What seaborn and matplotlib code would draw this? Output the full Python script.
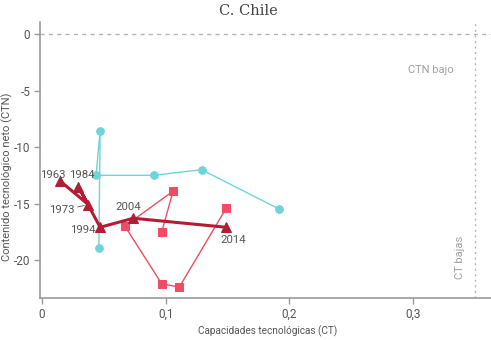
import numpy as np
import pandas as pd
import matplotlib
matplotlib.use("Agg")
import matplotlib.pyplot as plt
import matplotlib.ticker as mticker
import seaborn as sns

# capacidades tecnologicas (CT) y contenido tecnologico neto (CTN)
cian_ct = [0.046, 0.047, 0.0437, 0.0905, 0.129, 0.192]
cian_ctn = [-18.9, -8.6, -12.5, -12.5, -12.0, -15.5]

rosa_ct = [0.0968, 0.106, 0.067, 0.0968, 0.111, 0.149]
rosa_ctn = [-17.5, -13.9, -17.0, -22.1, -22.4, -15.4]

chile_years = ["1963", "1973", "1984", "1994", "2004", "2014"]
chile_ct = [0.0146, 0.0375, 0.0294, 0.047, 0.0738, 0.149]
chile_ctn = [-13.0, -15.1, -13.5, -17.1, -16.3, -17.1]

x_ticks = [0, 0.1, 0.2, 0.3]
y_ticks = [0, -5, -10, -15, -20]

c_cian = "#6fd4d9"
c_rosa = "#ee4d64"
c_chile = "#b41c35"
grey = "#9a9a9a"
txt = "#555555"

sns.set_style("white")
plt.rcParams["font.family"] = ["Roboto", "DejaVu Sans"]
plt.rcParams["axes.unicode_minus"] = False

fig = plt.figure(figsize=(4.91, 3.40), dpi=100)
ax = fig.add_axes([0.0815, 0.1235, 0.9185, 0.8115])

cian = pd.DataFrame(dict(ct=cian_ct, ctn=cian_ctn))
rosa = pd.DataFrame(dict(ct=rosa_ct, ctn=rosa_ctn))
chile = pd.DataFrame(dict(ct=chile_ct, ctn=chile_ctn, year=chile_years))

sns.lineplot(data=cian, x="ct", y="ctn", sort=False, estimator=None, color=c_cian,
             lw=1.0, marker="o", ms=5.5, mec=c_cian, ax=ax)
sns.lineplot(data=rosa, x="ct", y="ctn", sort=False, estimator=None, color=c_rosa,
             lw=1.0, marker="s", ms=5.5, mec=c_rosa, ax=ax)
sns.lineplot(data=chile, x="ct", y="ctn", sort=False, estimator=None, color=c_chile,
             lw=2.2, marker="^", ms=7, mec=c_chile, ax=ax)

# reference lines
ax.axhline(0, color="#b5b5b5", lw=1, ls=(0, (3, 3)), zorder=0)
ax.axvline(0.35, color="#b5b5b5", lw=1, ls=(0, (1.5, 2.5)), zorder=0)

# year labels
lab = dict(fontsize=8.2, color=txt)
leader = dict(arrowstyle="-", color=txt, lw=0.6, shrinkA=0, shrinkB=3)
ax.text(0.0090, -12.75, "1963", ha="center", va="baseline", **lab)
ax.annotate("1984", xy=(chile_ct[2], chile_ctn[2]), xytext=(0.0318, -12.75),
            ha="center", va="baseline", arrowprops=leader, **lab)
ax.annotate("1973", xy=(chile_ct[1], chile_ctn[1]), xytext=(0.0262, -15.6),
            ha="right", va="center", arrowprops=leader, **lab)
ax.text(0.0430, -17.3, "1994", ha="right", va="center", **lab)
ax.text(0.0700, -15.3, "2004", ha="center", va="center", **lab)
ax.text(0.1550, -18.25, "2014", ha="center", va="center", **lab)

ax.text(0.314, -3.2, "CTN bajo", ha="center", va="center", fontsize=8, color="#a0a0a0")
ax.text(0.338, -19.8, "CT bajas", ha="center", va="center", rotation=90, fontsize=8,
        color="#a0a0a0")

ax.set_xlim(-0.0016, 0.363)
ax.set_ylim(-23.36, 1.06)
ax.set_xticks(x_ticks)
ax.set_yticks(y_ticks)
ax.xaxis.set_major_formatter(mticker.FuncFormatter(lambda v, p: f"{v:g}".replace(".", ",")))
ax.tick_params(axis="both", length=4, width=1, color=grey, labelcolor=txt, labelsize=8.5,
               direction="out", left=True, bottom=True, pad=3)

for s in ["top", "right"]:
    ax.spines[s].set_visible(False)
for s in ["left", "bottom"]:
    ax.spines[s].set_color(grey)
    ax.spines[s].set_linewidth(1.2)

ax.set_xlabel("Capacidades tecnológicas (CT)", fontsize=7.2, color=txt, va="center")
ax.set_ylabel("Contenido tecnológico neto (CTN)", fontsize=8.0, color=txt, va="center")
ax.xaxis.set_label_coords((268 - 40) / 451, (298 - 331) / 276)
ax.yaxis.set_label_coords((7 - 40) / 451, (298 - 177) / 276)

fig.text(0.505, 0.968, "C. Chile", ha="center", va="center", fontsize=10.5,
         family=["DejaVu Serif"], color="#444444")

fig.savefig("out.png", dpi=100)
